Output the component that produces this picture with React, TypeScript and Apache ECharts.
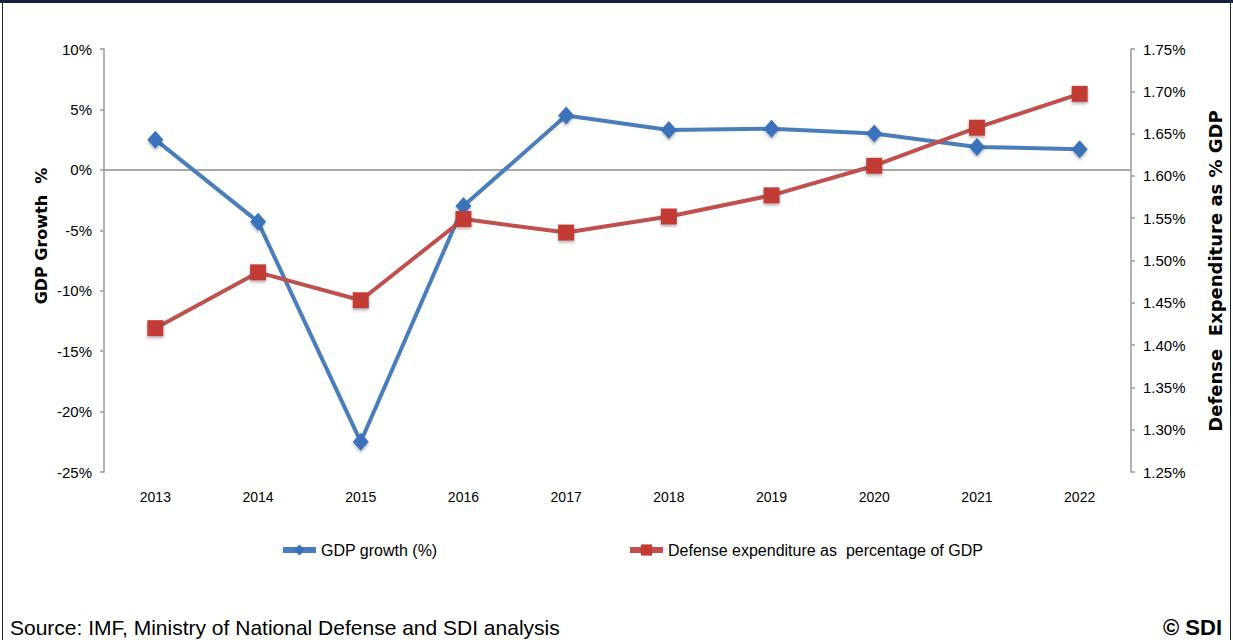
import React, { useEffect, useRef } from "react";
import * as echarts from "echarts";

const years = ["2013", "2014", "2015", "2016", "2017", "2018", "2019", "2020", "2021", "2022"];
const gdpGrowth = [2.5, -4.3, -22.5, -3.0, 4.5, 3.3, 3.4, 3.0, 1.9, 1.7];
const defenseShare = [1.42, 1.486, 1.453, 1.549, 1.533, 1.552, 1.577, 1.612, 1.657, 1.697];
const gdpName = "GDP growth (%)";
const defName = "Defense expenditure as  percentage of GDP";
const leftTitle = "GDP Growth  %";
const rightTitle = "Defense  Expenditure as % GDP";
const sourceText = "Source: IMF, Ministry of National Defense and SDI analysis";
const copyText = "© SDI";

const FONT = "'Liberation Sans', Arial, sans-serif";

export default function App() {
  const ref = useRef<HTMLDivElement>(null);
  useEffect(() => {
    document.body.style.margin = "0";
    const chart = echarts.init(ref.current!, null, { renderer: "svg" });
    const zeroColors = ["transparent", "transparent", "transparent", "transparent", "transparent", "#8c8c8c", "transparent", "transparent"];
    chart.setOption({
      animation: false,
      backgroundColor: "#ffffff",
      textStyle: { fontFamily: FONT },
      grid: { left: 104, right: 102, top: 49, bottom: 168 },
      xAxis: {
        type: "category",
        data: years,
        boundaryGap: true,
        axisLine: { show: false },
        axisTick: { show: false },
        axisLabel: { color: "#000", fontSize: 14, fontFamily: FONT, margin: 18 },
      },
      yAxis: [
        {
          type: "value",
          min: -25,
          max: 10,
          interval: 5,
          position: "left",
          axisLine: { show: true, lineStyle: { color: "#9a9a9a", width: 1.5 } },
          axisTick: { show: true, length: 4, lineStyle: { color: "#9a9a9a", width: 1.5 } },
          axisLabel: { color: "#000", fontSize: 15, fontFamily: FONT, margin: 12, formatter: (v: number) => v + "%" },
          splitLine: { show: true, lineStyle: { color: zeroColors, width: 1.5 } },
        },
        {
          type: "value",
          min: 1.25,
          max: 1.75,
          interval: 0.05,
          position: "right",
          axisLine: { show: true, lineStyle: { color: "#9a9a9a", width: 1.5 } },
          axisTick: { show: true, length: 4, lineStyle: { color: "#9a9a9a", width: 1.5 } },
          axisLabel: { color: "#000", fontSize: 15, fontFamily: FONT, margin: 12, formatter: (v: number) => v.toFixed(2) + "%" },
          splitLine: { show: false },
        },
      ],
      legend: [
        {
          data: [gdpName],
          left: 280,
          top: 542,
          padding: 0,
          itemWidth: 33,
          itemHeight: 14,
          lineStyle: { width: 6 },
          textStyle: { color: "#000", fontSize: 16, fontFamily: FONT },
        },
        {
          data: [defName],
          left: 627,
          top: 542,
          padding: 0,
          itemWidth: 33,
          itemHeight: 14,
          lineStyle: { width: 6 },
          textStyle: { color: "#000", fontSize: 16, fontFamily: FONT },
        },
      ],
      series: [
        {
          name: gdpName,
          type: "line",
          yAxisIndex: 0,
          data: gdpGrowth,
          symbol: "diamond",
          symbolSize: [16, 18],
          lineStyle: { color: "#4a7ebb", width: 4 },
          itemStyle: { color: "#3a72ba", shadowBlur: 3, shadowColor: "rgba(0,0,0,0.3)", shadowOffsetY: 2 },
          z: 3,
        },
        {
          name: defName,
          type: "line",
          yAxisIndex: 1,
          data: defenseShare,
          symbol: "rect",
          symbolSize: 16,
          lineStyle: { color: "#c0504d", width: 4 },
          itemStyle: { color: "#c23b36", shadowBlur: 3, shadowColor: "rgba(0,0,0,0.3)", shadowOffsetY: 2 },
          z: 4,
        },
      ],
      graphic: [
        { type: "rect", shape: { x: 0, y: 0, width: 1233, height: 3 }, style: { fill: "#14213d" }, silent: true },
        { type: "line", shape: { x1: 2.5, y1: 0, x2: 2.5, y2: 640 }, style: { stroke: "#222", lineWidth: 1 }, silent: true },
        { type: "line", shape: { x1: 1230.5, y1: 0, x2: 1230.5, y2: 640 }, style: { stroke: "#222", lineWidth: 1 }, silent: true },
        {
          type: "text",
          x: 41,
          y: 236,
          rotation: Math.PI / 2,
          style: { text: leftTitle, font: "bold 16px 'DejaVu Sans', Verdana, sans-serif", fill: "#000", textAlign: "center", textVerticalAlign: "middle" },
        },
        {
          type: "text",
          x: 1215,
          y: 271,
          rotation: Math.PI / 2,
          style: { text: rightTitle, font: "bold 18px 'DejaVu Sans', Verdana, sans-serif", fill: "#000", textAlign: "center", textVerticalAlign: "middle" },
        },
        {
          type: "text",
          x: 10,
          y: 627,
          style: { text: sourceText, font: "21px 'Liberation Sans', Arial, sans-serif", fill: "#000", textAlign: "left", textVerticalAlign: "middle" },
        },
        {
          type: "text",
          x: 1222,
          y: 627,
          style: { text: copyText, font: "bold 22px 'Liberation Sans', Arial, sans-serif", fill: "#000", textAlign: "right", textVerticalAlign: "middle" },
        },
      ],
    });
    return () => chart.dispose();
  }, []);
  return <div ref={ref} style={{ width: 1233, height: 640 }} />;
}
